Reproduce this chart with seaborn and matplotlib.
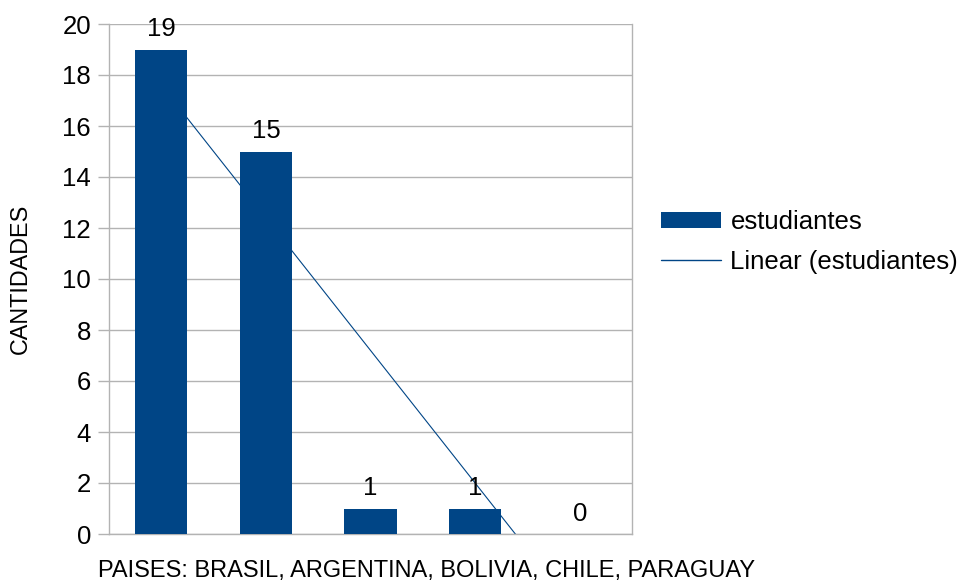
import numpy as np
import pandas as pd
import matplotlib
matplotlib.use("Agg")
import matplotlib.pyplot as plt
from matplotlib.patches import Patch
from matplotlib.lines import Line2D
import seaborn as sns

# Students per country
countries = ["BRASIL", "ARGENTINA", "BOLIVIA", "CHILE", "PARAGUAY"]
students = [19, 15, 1, 1, 0]
y_ticks = [0, 2, 4, 6, 8, 10, 12, 14, 16, 18, 20]

series_name = "estudiantes"
trend_name = "Linear (estudiantes)"
x_title = "PAISES: BRASIL, ARGENTINA, BOLIVIA, CHILE, PARAGUAY"
y_title = "CANTIDADES"

bar_color = "#004586"
grid_color = "#b3b3b3"

sns.set_theme(style="white")
plt.rcParams["font.family"] = ["Liberation Sans", "DejaVu Sans"]

df = pd.DataFrame({"pais": countries, "n": students})

W, H = 960, 581
fig = plt.figure(figsize=(W / 100, H / 100), dpi=100)
ax = fig.add_axes([109 / W, 1 - 534 / H, (632 - 109) / W, (534 - 24) / H])

sns.barplot(data=df, x="pais", y="n", color=bar_color, width=0.5,
            saturation=1, linewidth=0, edgecolor="none", ax=ax, zorder=3)

# Linear trend line fitted on the series, drawn behind the bars
xs = np.arange(len(students))
slope, intercept = np.polyfit(xs, students, 1)
tx = np.array([xs[0], xs[-1]])
ax.plot(tx, slope * tx + intercept, color=bar_color, lw=0.8, zorder=2)

ax.bar_label(ax.containers[0], labels=[str(v) for v in students],
             fontsize=18.5, padding=6, color="black", zorder=4)

ax.set_xlim(-0.5, len(students) - 0.5)
ax.set_ylim(0, 20)
ax.set_yticks(y_ticks)
ax.set_xticks([])
ax.set_xlabel("")
ax.set_ylabel("")
ax.grid(axis="y", color=grid_color, lw=1, zorder=0)
ax.set_axisbelow(True)
for s in ax.spines.values():
    s.set_color(grid_color)
    s.set_linewidth(1)
ax.spines["top"].set_visible(False)
ax.tick_params(axis="y", which="major", length=8, width=1, color=grid_color,
               labelsize=18.5, pad=5, left=True, labelcolor="black")

fig.text(20 / W, 1 - 279 / H, y_title, rotation=90, ha="center", va="center",
         fontsize=16.8, color="black")
fig.text(427 / W, 1 - 571 / H, x_title, ha="center", va="center",
         fontsize=17, color="black")

handles = [Patch(facecolor=bar_color, edgecolor="none", label=series_name),
           Line2D([0], [0], color=bar_color, lw=1, label=trend_name)]
leg = fig.legend(handles=handles, loc="center left",
                 bbox_to_anchor=(661 / W, 1 - 242 / H), frameon=False,
                 fontsize=18.5, handlelength=2.35, handleheight=0.6,
                 handletextpad=0.35, labelspacing=0.6, borderaxespad=0,
                 borderpad=0)
for t in leg.get_texts():
    t.set_color("black")

fig.savefig("out.png", dpi=100, facecolor="white")
